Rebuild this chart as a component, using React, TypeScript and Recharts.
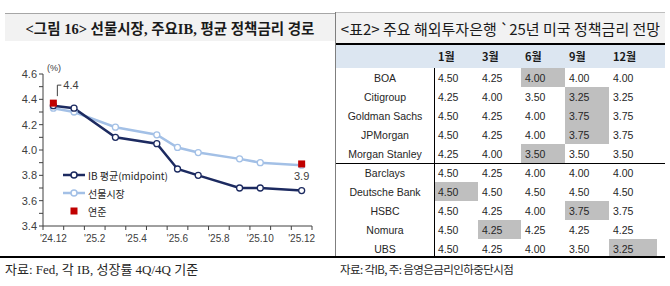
import React from 'react';
import { ComposedChart, Line, XAxis, YAxis, Legend, LabelList } from 'recharts';

// ---------- chart data ----------
const monthLabels = ["'24.12", "'25.1", "'25.2", "'25.3", "'25.4", "'25.5", "'25.6", "'25.7", "'25.8", "'25.9", "'25.10", "'25.11", "'25.12"];
const ibAvg = [4.35, 4.33, null, 4.10, null, 4.05, 3.85, 3.80, null, 3.70, 3.70, null, 3.68];
const futures = [4.33, 4.30, null, 4.18, null, 4.12, 4.02, 3.98, null, 3.93, 3.90, null, 3.88];
const fedDots = [4.37, null, null, null, null, null, null, null, null, null, null, null, 3.89];
const yTicks = [3.4, 3.5, 3.6, 3.7, 3.8, 3.9, 4.0, 4.1, 4.2, 4.3, 4.4, 4.5, 4.6];
const seriesNames = { ib: 'IB 평균(midpoint)', fut: '선물시장', fed: '연준' };

// ---------- table data ----------
const banks = ['BOA', 'Citigroup', 'Goldman Sachs', 'JPMorgan', 'Morgan Stanley', 'Barclays', 'Deutsche Bank', 'HSBC', 'Nomura', 'UBS'];
const tableMonths = ['1월', '3월', '6월', '9월', '12월'];
const forecasts = [
  [4.50, 4.25, 4.00, 4.00, 4.00],
  [4.25, 4.00, 3.50, 3.25, 3.25],
  [4.50, 4.25, 4.00, 3.75, 3.75],
  [4.50, 4.25, 4.00, 3.75, 3.75],
  [4.25, 4.00, 3.50, 3.50, 3.50],
  [4.50, 4.25, 4.00, 4.00, 4.00],
  [4.50, 4.50, 4.50, 4.50, 4.50],
  [4.50, 4.25, 4.00, 3.75, 3.75],
  [4.50, 4.25, 4.25, 4.25, 4.25],
  [4.50, 4.25, 4.00, 3.50, 3.25],
];
const pauseCol = [2, 3, 3, 3, 2, null, 0, 3, 1, 4];
const groupBreakAfter = 4;

// ---------- texts ----------
const leftTitle = '<그림 16> 선물시장, 주요IB, 평균 정책금리 경로';
const rightTitle = '<표2> 주요 해외투자은행 `25년 미국 정책금리 전망';
const leftSource = '자료: Fed, 각 IB, 성장률 4Q/4Q 기준';
const rightSource = '자료: 각IB, 주: 음영은금리인하중단시점';

// ---------- layout ----------
const CHART_W = 335;
const CHART_H = 216;
const Y_W = 43;
const M_R = 23;
const PLOT_W = CHART_W - Y_W - M_R;
const CAT_W = PLOT_W / monthLabels.length;

const DARK = '#1c2a60';
const LIGHT = '#a3c0e6';
const RED = '#c00000';
const AXIS = '#404040';
const SANS = '"Liberation Sans", Arial, "Noto Sans CJK KR", sans-serif';
const KSANS = '"Noto Sans CJK KR", "Liberation Sans", sans-serif';
const SERIF = '"Liberation Serif", "Noto Sans CJK KR", serif';

const data = monthLabels.map((m, i) => ({ x: i, label: m, ib: ibAvg[i], fut: futures[i], fed: fedDots[i] }));
const xTicks = monthLabels.map((_, i) => i - 0.5).concat([monthLabels.length - 0.5]);

const XTick = (props: any) => {
  const { x, y, payload } = props;
  const k = Math.round(payload.value + 0.5);
  if (k % 2 !== 0 || k >= monthLabels.length) return <g />;
  return (
    <text x={x + CAT_W / 2} y={y} dy={10} textAnchor="middle" fontSize={10} fontFamily={SANS} fill="#404040">
      {monthLabels[k]}
    </text>
  );
};

const YTick = (props: any) => {
  const { x, y, payload } = props;
  const v = payload.value;
  if (Math.round(v * 10) % 2 !== 0) return <g />;
  return (
    <text x={x} y={y} dy={4} textAnchor="end" fontSize={11} fontFamily={SANS} fill="#404040">
      {v.toFixed(1)}
    </text>
  );
};

const SquareDot = (props: any) => {
  const { cx, cy } = props;
  if (cy == null || cx == null || isNaN(cy)) return <g key={props.key} />;
  return <rect key={props.key} x={cx - 3.5} y={cy - 3.5} width={7} height={7} fill={RED} />;
};

const FedLabel = (props: any) => {
  const { x, y, value, index } = props;
  if (value == null) return <g />;
  const txt = Number(value).toFixed(1);
  if (index === 0) {
    return (
      <g>
        <path d={`M${x + 4},${y - 7} V${y - 18} H${x + 8}`} stroke="#404040" strokeWidth={1} fill="none" />
        <text x={x + 10} y={y - 18} dy={4} fontSize={11} fontFamily={SANS} fill="#404040">{txt}</text>
      </g>
    );
  }
  return (
    <text x={x} y={y + 12} dy={4} textAnchor="middle" fontSize={11} fontFamily={SANS} fill="#404040">{txt}</text>
  );
};

const legendOrder = ['ib', 'fut', 'fed'];
const LegendContent = (props: any) => {
  const items = [...(props.payload || [])].sort(
    (a: any, b: any) => legendOrder.indexOf(a.dataKey) - legendOrder.indexOf(b.dataKey)
  );
  return (
    <div style={{ fontFamily: KSANS, fontSize: 10, color: '#262626', textAlign: 'left' }}>
      {items.map((it: any) => (
        <div key={it.dataKey} style={{ display: 'flex', alignItems: 'center', height: 18 }}>
          <svg width={25} height={18} style={{ flex: 'none' }}>
            {it.dataKey === 'fed' ? (
              <rect x={7.5} y={5.5} width={7} height={7} fill={RED} />
            ) : (
              <g>
                <line x1={0} y1={9} x2={22} y2={9} stroke={it.dataKey === 'ib' ? DARK : LIGHT} strokeWidth={2.5} />
                <circle cx={11} cy={9} r={3} fill="#fff" stroke={it.dataKey === 'ib' ? DARK : LIGHT} strokeWidth={1.5} />
              </g>
            )}
          </svg>
          <span style={{ whiteSpace: 'nowrap' }}>{it.value}</span>
        </div>
      ))}
    </div>
  );
};

const COLS = [98, 44, 43, 44, 44, 48, 8];
const HEAD_H = 24;
const ROW_H = 19;

export default function App() {
  return (
    <div style={{ position: 'fixed', left: 0, top: 0, width: 670, height: 286, background: '#fff', overflow: 'hidden' }}>
      {/* left title */}
      <div style={{ position: 'absolute', left: 5, top: 13, width: 330, height: 28, background: '#f2f2f2', borderTop: '1px solid #a6a6a6', boxSizing: 'border-box', display: 'flex', alignItems: 'center', justifyContent: 'center', fontFamily: SERIF, fontWeight: 700, fontSize: 14.5, color: '#1a1a1a', whiteSpace: 'nowrap' }}>
        {leftTitle}
      </div>
      {/* right title */}
      <div style={{ position: 'absolute', left: 336, top: 12, width: 329, height: 32, background: '#f2f2f2', borderTop: '1px solid #bfbfbf', boxSizing: 'border-box', display: 'flex', alignItems: 'center', justifyContent: 'center', fontFamily: KSANS, fontSize: 15, color: '#1a1a1a', whiteSpace: 'nowrap' }}>
        {rightTitle}
      </div>
      {/* separator */}
      <div style={{ position: 'absolute', left: 335, top: 12, width: 1, height: 245, background: '#7f7f7f' }} />

      {/* chart */}
      <div style={{ position: 'absolute', left: 0, top: 40 }}>
        <ComposedChart width={CHART_W} height={CHART_H} data={data} margin={{ top: 34, right: M_R, bottom: 0, left: 0 }}>
          <XAxis dataKey="x" type="number" domain={[-0.5, monthLabels.length - 0.5]} ticks={xTicks} interval={0}
            tick={XTick} tickSize={4} height={30} axisLine={{ stroke: AXIS }} tickLine={{ stroke: AXIS }} allowDataOverflow />
          <YAxis type="number" domain={[3.4, 4.6]} ticks={yTicks} interval={0} width={Y_W}
            tick={YTick} tickSize={4} axisLine={{ stroke: AXIS }} tickLine={{ stroke: AXIS }} allowDataOverflow />
          <Line dataKey="fut" name={seriesNames.fut} stroke={LIGHT} strokeWidth={2.5} connectNulls isAnimationActive={false}
            dot={{ r: 3, fill: '#fff', stroke: LIGHT, strokeWidth: 1.3 }} activeDot={false} />
          <Line dataKey="ib" name={seriesNames.ib} stroke={DARK} strokeWidth={2.5} connectNulls isAnimationActive={false}
            dot={{ r: 3, fill: '#fff', stroke: DARK, strokeWidth: 1.3 }} activeDot={false} />
          <Line dataKey="fed" name={seriesNames.fed} stroke="none" strokeWidth={0} isAnimationActive={false}
            dot={SquareDot} activeDot={false}>
            <LabelList dataKey="fed" content={FedLabel} />
          </Line>
          <Legend content={LegendContent} layout="horizontal" verticalAlign="middle" align="center"
            wrapperStyle={{ position: 'absolute', left: 63, top: 126, width: 150, height: 54 }} />
        </ComposedChart>
      </div>
      <div style={{ position: 'absolute', left: 47, top: 63, fontFamily: SANS, fontSize: 9, color: '#404040' }}>(%)</div>

      {/* table */}
      <div style={{ position: 'absolute', left: 336, top: 44, width: 329 }}>
        <table style={{ borderCollapse: 'collapse', tableLayout: 'fixed', width: 329, borderSpacing: 0 }}>
          <colgroup>
            {COLS.map((w, i) => <col key={i} style={{ width: w }} />)}
          </colgroup>
          <thead>
            <tr style={{ background: '#dce6f1' }}>
              <th style={{ height: HEAD_H, padding: 0 }} />
              {tableMonths.map((m) => (
                <th key={m} style={{ height: HEAD_H, padding: '0 0 0 4px', textAlign: 'left', fontFamily: KSANS, fontWeight: 700, fontSize: 11, color: '#1a1a1a' }}>{m}</th>
              ))}
              <th style={{ padding: 0 }} />
            </tr>
          </thead>
          <tbody>
            {banks.map((b, r) => (
              <tr key={b}>
                <td style={{ height: ROW_H, padding: 0, textAlign: 'center', fontFamily: SANS, fontSize: 10.5, color: '#262626', whiteSpace: 'nowrap' }}>{b}</td>
                {forecasts[r].map((v, c) => (
                  <td key={c} style={{ height: ROW_H, padding: '0 0 0 4px', textAlign: 'left', fontFamily: SANS, fontSize: 10.5, color: '#262626', background: pauseCol[r] === c ? '#bfbfbf' : 'transparent' }}>
                    {v.toFixed(2)}
                  </td>
                ))}
                <td style={{ padding: 0 }} />
              </tr>
            ))}
          </tbody>
        </table>
      </div>
      {/* table lines */}
      <div style={{ position: 'absolute', left: 336, top: 43, width: 329, height: 2, background: '#000' }} />
      <div style={{ position: 'absolute', left: 434, top: 44 + HEAD_H, width: 1, height: ROW_H * banks.length, background: '#000' }} />
      <div style={{ position: 'absolute', left: 336, top: 44 + HEAD_H + ROW_H * (groupBreakAfter + 1), width: 329, height: 1, background: '#000' }} />
      {/* bottom rule */}
      <div style={{ position: 'absolute', left: 0, top: 256, width: 665, height: 2, background: '#000' }} />

      {/* sources */}
      <div style={{ position: 'absolute', left: 5, top: 259, fontFamily: SERIF, fontSize: 13, color: '#262626', whiteSpace: 'nowrap' }}>{leftSource}</div>
      <div style={{ position: 'absolute', left: 340, top: 261, fontFamily: KSANS, fontSize: 11.5, letterSpacing: -0.6, color: '#262626', whiteSpace: 'nowrap' }}>{rightSource}</div>
    </div>
  );
}
